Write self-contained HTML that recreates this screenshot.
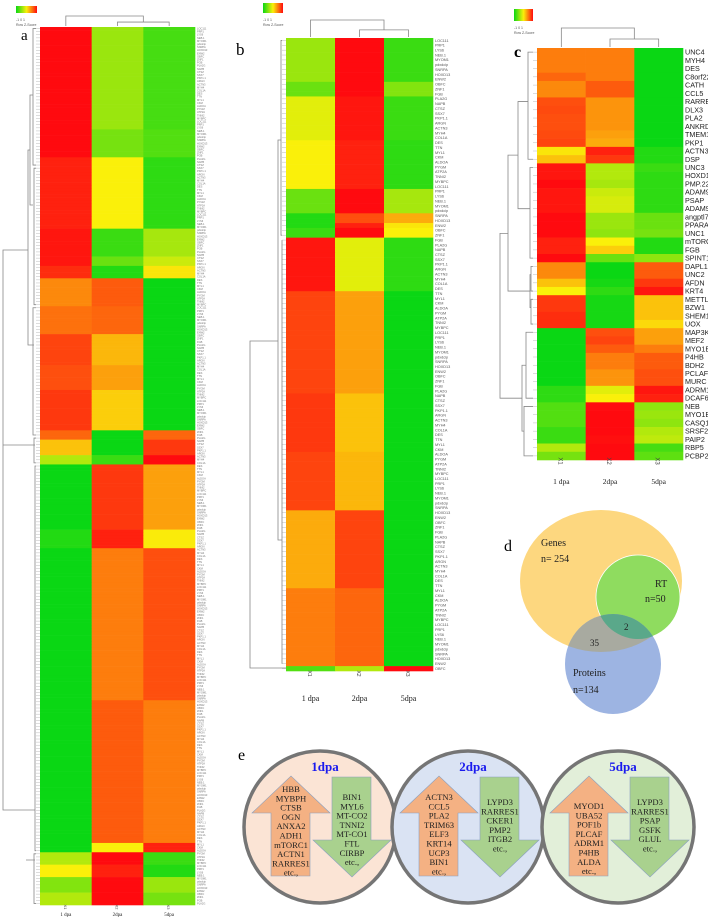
<!DOCTYPE html>
<html><head><meta charset="utf-8">
<style>
html,body{margin:0;padding:0;background:#fff;}
svg{display:block;font-family:"Liberation Serif",serif;}
</style></head>
<body>
<svg id="fig" width="708" height="918" viewBox="0 0 708 918" xmlns="http://www.w3.org/2000/svg">
<defs>
<linearGradient id="zg" x1="0" x2="1" y1="0" y2="0">
<stop offset="0" stop-color="#0ad714"/><stop offset="0.5" stop-color="#faf00a"/><stop offset="1" stop-color="#ff0a0f"/>
</linearGradient>
</defs>
<g id="panelA"></g>
<g id="panelB"></g>
<g id="panelC"></g>

<text x="21" y="40" font-size="15">a</text>
<text x="236" y="55" font-size="17">b</text>
<text x="514" y="57" font-size="16" font-weight="bold">c</text>
<text x="504" y="551" font-size="16">d</text>
<text x="238" y="760" font-size="16">e</text>

<g>
<ellipse cx="601" cy="581" rx="81" ry="71" fill="#fdd77f"/>
<circle cx="638" cy="597" r="42" fill="#8fdc5f" stroke="#fff" stroke-width="0.8"/>
<ellipse cx="613" cy="664" rx="48" ry="50" fill="#9db4e2"/>
<path id="ovGP" fill="#a8aaa0"/>
<path id="ovAll" fill="#5aa88a"/>
<text x="541" y="546" font-size="10" fill="#222">Genes</text>
<text x="541" y="562" font-size="10" fill="#222">n= 254</text>
<text x="655" y="587" font-size="10" fill="#222">RT</text>
<text x="645" y="602" font-size="10" fill="#222">n=50</text>
<text x="624" y="630" font-size="9" fill="#222">2</text>
<text x="590" y="646" font-size="9" fill="#222">35</text>
<text x="573" y="676" font-size="10" fill="#222">Proteins</text>
<text x="573" y="693" font-size="10" fill="#222">n=134</text>
</g>

<g id="panelE"></g>
</svg>

<script>
const aBlockRows = [33,9,23,9,3,4,9,9,10,8,13,3,5,3,21,6,49,46,3,4,4,5,4];
const aBlockVals = [
 [1,-0.4,-0.75],[1,-0.55,-0.7],[0.9,0.0,-0.85],[0.95,-0.8,-0.35],[0.95,-0.6,-0.2],[0.85,-0.9,0.05],
 [0.45,0.65,-1],[0.55,0.6,-1],[0.75,0.25,-1],[0.7,0.35,-1],[0.8,0.15,-1],
 [0.6,-1,0.6],[0.2,-1,0.8],[-0.3,-0.8,1],
 [-1,0.8,0.35],[-0.9,0.9,0.02],[-1,0.5,0.7],[-1,0.65,0.5],[-1,0.0,0.9],
 [-0.3,1,-0.8],[0.0,0.9,-0.9],[-0.5,1,-0.4],[-0.3,1,-0.55]
];
const bBlockRows = [9,3,9,10,5,2,1,2,11,21,12,12,16,16,1];
const bBlockVals = [
 [-0.4,1,-0.8],[-0.6,1,-0.5],[-0.1,0.95,-0.8],[0.0,0.9,-0.85],[-0.6,1,-0.35],
 [-0.9,0.7,0.3],[-0.9,0.9,0.05],[-0.8,1,0.0],
 [0.95,-0.1,-0.85],[0.75,0.35,-1],[0.8,0.2,-1],[0.75,0.25,-1],[0.3,0.75,-1],[0.5,0.6,-1],[-0.7,-0.3,1]
];
const cGenes = ["UNC4","MYH4","DES","C8orf22","CATH","CCL5","RARRE","DLX3","PLA2","ANKRD","TMEM12","PKP1","ACTN3","DSP","UNC3","HOXD13","PMP.22","ADAM9.","PSAP","ADAM9","angptl7","PPARA","UNC1","mTORC","FGB","SPINT1","DAPL1","UNC2","AFDN","KRT4","METTL7","BZW1","SHEM1","UOX","MAP3K7","MEF2","MYO1B.","P4HB","BDH2","PCLAF","MURC","ADRM1","DCAF6","NEB","MYO1B","CASQ1","SRSF2","PAIP2","RBP5","PCBP2"];
const c1dpa = [0.5,0.5,0.5,0.6,0.45,0.45,0.7,0.72,0.7,0.7,0.72,0.75,0.05,0.2,0.95,0.95,1,0.95,0.95,0.95,1,1,1,0.9,0.9,1,0.45,0.45,0.2,0.0,0.8,0.8,0.85,0.85,-1,-1,-1,-1,-1,-1,-1,-0.85,-0.85,-0.7,-0.7,-0.7,-0.8,-0.8,-0.3,-0.55];
const c2dpa = [0.5,0.5,0.5,0.5,0.65,0.65,0.4,0.4,0.4,0.4,0.35,0.3,0.9,0.8,-0.3,-0.3,-0.35,-0.2,-0.15,-0.15,-0.4,-0.4,-0.45,0.0,0.15,-0.6,-1,-1,-0.95,-0.85,-0.95,-0.95,-0.95,-0.95,0.7,0.75,0.65,0.5,0.5,0.4,0.4,-0.1,0.0,1,1,1,1,0.98,1,1];
const c5dpa = [-1,-1,-1,-1,-1,-1,-1,-1,-1,-1,-1,-1,-0.9,-0.9,-0.8,-0.85,-0.85,-0.85,-0.85,-0.85,-0.6,-0.6,-0.55,-0.9,-0.9,-0.45,0.65,0.65,0.8,0.95,0.2,0.2,0.2,0.1,0.35,0.35,0.5,0.65,0.65,0.7,0.7,0.95,0.9,-0.45,-0.4,-0.45,-0.3,-0.25,-0.75,-0.65];
const colLabels = ["X1","X2","X3"];
const dayLabels = ["1 dpa","2dpa","5dpa"];
const geneNamePool = ["LOC111","PRP1","LYS6","NEB.1","MYOM1","pdxdcip","SNRPA","HOXD13","ENW2","OBFC","ZNF1","FGB","PLA2G","NAPB","CTSZ","SSX7","PKP1.1","ARGN","ACTN3","MYH4","COL1A","DES","TTN","MYL1","CKM","ALDOA","PYGM","ATP2A","TNNI2","MYBPC"];

function zColor(z){
  z=Math.max(-1,Math.min(1,z));
  let c0,c1,t;
  if(z<0){c0=[10,215,20];c1=[250,240,10];t=z+1;}
  else{c0=[250,240,10];c1=[255,10,15];t=z;}
  const r=Math.round(c0[0]+(c1[0]-c0[0])*t),g=Math.round(c0[1]+(c1[1]-c0[1])*t),b=Math.round(c0[2]+(c1[2]-c0[2])*t);
  return `rgb(${r},${g},${b})`;
}
const NS="http://www.w3.org/2000/svg";
function mk(tag,attrs,parent){const e=document.createElementNS(NS,tag);for(const k in attrs)e.setAttribute(k,attrs[k]);parent.appendChild(e);return e;}
function expandBlocks(rowsArr,valsArr){const out=[];rowsArr.forEach((n,i)=>{for(let k=0;k<n;k++)out.push(valsArr[i]);});return out;}

function drawHeatmap(g,rows,box,opts){
  const nR=rows.length, rh=(box.y1-box.y0)/nR, cw=(box.x1-box.x0)/3;
  const yScale=i=>box.y0+i*rh, xScale=j=>box.x0+j*cw;
  rows.forEach((vals,i)=>{
    vals.forEach((v,j)=>{
      const r=mk('rect',{x:xScale(j),y:yScale(i),width:cw+0.3,height:rh+0.3,fill:zColor(v)},g);
      
      
    });
    const name=opts.names?opts.names[i]:geneNamePool[i%geneNamePool.length];
    const t=mk('text',{x:box.x1+2,y:yScale(i)+rh*0.5+opts.fs*0.35,'font-size':opts.fs,fill:opts.labelColor,'font-family':'Liberation Sans, sans-serif'},g);
    t.textContent=name;
    
    
  });
  for(let j=0;j<3;j++){
    const cx=xScale(j)+cw/2;
    const t=mk('text',{x:cx,y:box.y1+opts.xlabOff,'font-size':opts.xfs,fill:'#444','text-anchor':'middle','font-family':'Liberation Sans, sans-serif',transform:`rotate(90 ${cx} ${box.y1+opts.xlabOff-opts.xfs/2})`},g);
    t.textContent=colLabels[j];
    
    
    const d=mk('text',{x:cx,y:box.y1+opts.dayOff,'font-size':opts.dfs,fill:'#222','text-anchor':'middle'},g);
    d.textContent=dayLabels[j];
    
    
  }
  const c=j=>xScale(j)+cw/2, ln='#888';
  const top=box.y0-opts.dendH, mid=box.y0-opts.dendH*0.45;
  mk('path',{d:`M${c(1)},${box.y0-1} V${mid} H${c(2)} V${box.y0-1} M${c(0)},${box.y0-1} V${top} H${(c(1)+c(2))/2} V${mid}`,stroke:ln,fill:'none','stroke-width':0.8},g);
  const rx=box.x0;
  for(let i=0;i<nR;i++){mk('line',{x1:rx-4,x2:rx,y1:yScale(i)+rh/2,y2:yScale(i)+rh/2,stroke:'#aaa','stroke-width':0.4},g);}
  let path='';
  opts.groups.forEach(gp=>{
    const ya=yScale(gp[0])+rh/2, yb=yScale(gp[1])+rh/2;
    path+=`M${rx-4},${ya} H${gp[2]} V${yb} H${rx-4} `;
  });
  mk('path',{d:path+(opts.extra||''),stroke:'#888',fill:'none','stroke-width':0.8},g);
  const L=opts.legend;
  mk('rect',{x:L[0],y:L[1],width:L[2],height:L[3],fill:'url(#zg)'},g);
  const lt=mk('text',{x:L[0],y:L[1]+L[3]+8,'font-size':3.5,fill:'#555','font-family':'Liberation Sans, sans-serif'},g);
  lt.textContent='-1  0  1';
  const lt2=mk('text',{x:L[0],y:L[1]+L[3]+13,'font-size':3.5,fill:'#555','font-family':'Liberation Sans, sans-serif'},g);
  lt2.textContent='Row Z-Score';
}

const rowsA=expandBlocks(aBlockRows,aBlockVals);
drawHeatmap(document.getElementById('panelA'),rowsA,{x0:40,x1:195,y0:27,y1:905},
 {fs:2.6,labelColor:'#777',xfs:4,xlabOff:4,dayOff:11,dfs:5,dendH:11,legend:[16,6,21,7],
  groups:[[0,44,33],[45,89,34],[90,131,33],[132,140,34],[141,265,35],[266,282,34]],
  extra:'M33,95 H30 V205 H33 M30,150 H28 V345 H34 M34,440 H34 M28,250 H3 V810 H35 M35,445 H3 M35,860 H26'});
const rowsB=expandBlocks(bBlockRows,bBlockVals);
drawHeatmap(document.getElementById('panelB'),rowsB,{x0:286,x1:433,y0:38,y1:671},
 {fs:3.8,labelColor:'#555',xfs:5,xlabOff:5,dayOff:30,dfs:8,dendH:18,legend:[263,3,20,10],
  groups:[[0,40,281],[41,128,282]],
  extra:'M281,140 H278 V540 H282 M278,341 H250 V668 H286'});
const rowsC=cGenes.map((g,i)=>[c1dpa[i],c2dpa[i],c5dpa[i]]);
drawHeatmap(document.getElementById('panelC'),rowsC,{x0:537,x1:683,y0:48,y1:460},
 {names:cGenes,fs:7.2,labelColor:'#222',xfs:6,xlabOff:4,dayOff:24,dfs:7.5,dendH:20,legend:[514,9,19,12],
  groups:[[0,13,528],[14,25,530],[26,29,531],[30,33,531],[34,42,526],[43,49,524]],
  extra:''});
(function(){
  const g=document.getElementById('panelC');
  const rh=412/50, y=i=>48+i*rh+rh/2;
  mk('path',{d:`M528,${y(6)} H518 V${y(19)} H530 M518,${(y(6)+y(19))/2} H508 V${(y(27)+y(31))/2} H530 M531,${y(27)} H530 V${y(31)} H531 M526,${y(38)} H522 V${y(46)} H524 M508,${y(22)} H500 V${y(42)} H522`,stroke:'#888',fill:'none','stroke-width':0.8},g);
})();

(function(){
  const svg=document.getElementById('fig');
  const defs=svg.querySelector('defs');
  const cp1=mk('clipPath',{id:'cpGenes'},defs); mk('ellipse',{cx:601,cy:581,rx:81,ry:71},cp1);
  const cp2=mk('clipPath',{id:'cpRT'},defs); mk('circle',{cx:638,cy:597,r:42},cp2);
  const ov=document.getElementById('ovGP');
  ov.setAttribute('d','M565,664 a48,50 0 1,0 96,0 a48,50 0 1,0 -96,0');
  ov.setAttribute('clip-path','url(#cpGenes)');
  const g=mk('g',{'clip-path':'url(#cpRT)'},ov.parentNode);
  ov.parentNode.insertBefore(g,ov.nextSibling);
  const all=document.getElementById('ovAll');
  all.setAttribute('d','M565,664 a48,50 0 1,0 96,0 a48,50 0 1,0 -96,0');
  g.appendChild(all);
  const texts=[...ov.parentNode.querySelectorAll('text')];
  texts.forEach(t=>ov.parentNode.appendChild(t));
})();

const eTitles=["1dpa","2dpa","5dpa"];
const eFills=["#fbe4d5","#dae3f3","#e2efd9"];
const eUp=[["HBB","MYBPH","CTSB","OGN","ANXA2","ADH1","mTORC1","ACTN1","RARRES1","etc.,"],
 ["ACTN3","CCL5","PLA2","TRIM63","ELF3","KRT14","UCP3","BIN1","etc.,"],
 ["MYOD1","UBA52","POF1b","PLCAF","ADRM1","P4HB","ALDA","etc.,"]];
const eDown=[["BIN1","MYL6","MT-CO2","TNNI2","MT-CO1","FTL","CIRBP","etc.,"],
 ["LYPD3","RARRES1","CKER1","PMP2","ITGB2","etc.,"],
 ["LYPD3","RARRES1","PSAP","GSFK","GLUL","etc.,"]];
(function(){
  const g=document.getElementById('panelE');
  const cxs=[320,468,618], cy=827, r=76;
  eTitles.forEach((t,i)=>{
    const c=mk('circle',{cx:cxs[i],cy:cy,r:r,fill:eFills[i],stroke:'#757575','stroke-width':3.5},g);
    
    
  });
  eTitles.forEach((t,i)=>{
    const cx=cxs[i], ox=cx-320;
    const tt=mk('text',{x:cx+5,y:771,'font-size':13,'font-weight':'bold',fill:'#1a1aee','text-anchor':'middle'},g);
    tt.textContent=t;
    
    
    const up=mk('path',{d:`M${252+ox},813 L${291+ox},776 L${330+ox},813 L${310+ox},813 L${310+ox},876 L${271+ox},876 L${271+ox},813 Z`,fill:'#f4b183',stroke:'#8aa0c0','stroke-width':0.6},g);
    
    
    const dn=mk('path',{d:`M${332+ox},777 L${371+ox},777 L${371+ox},840 L${391+ox},840 L${352+ox},877 L${313+ox},840 L${332+ox},840 Z`,fill:'#a9d18e',stroke:'#8aa0c0','stroke-width':0.6},g);
    
    
    const ul=eUp[i], dl=eDown[i];
    const upStart = ul.length>=10?792:(ul.length===9?800:809);
    ul.forEach((s,k)=>{
      const t=mk('text',{x:291+ox,y:upStart+k*9.3,'font-size':8.6,fill:'#222','text-anchor':'middle'},g);
      t.textContent=s;
      
      
    });
    const dnStart = dl.length>=8?800:805;
    dl.forEach((s,k)=>{
      const t=mk('text',{x:352+ox,y:dnStart+k*9.3,'font-size':8.6,fill:'#222','text-anchor':'middle'},g);
      t.textContent=s;
      
      
    });
  });
})();
</script>
</body></html>
